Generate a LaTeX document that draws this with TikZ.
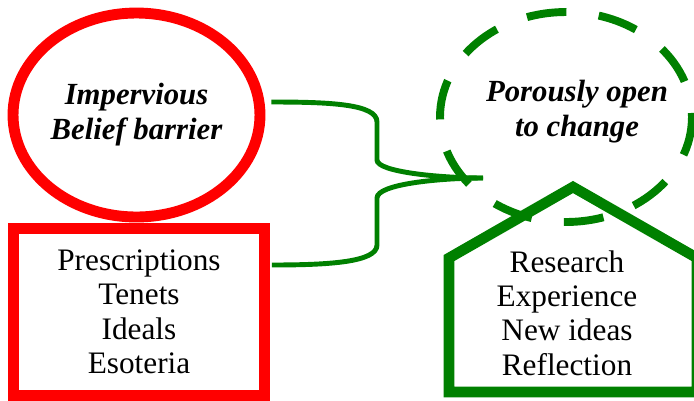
\documentclass[tikz,border=0pt]{standalone}
\usepackage{fontspec}
\setmainfont{Liberation Serif}
\usetikzlibrary{positioning,calc,shapes.geometric}

\begin{document}
\begin{tikzpicture}[
  x=0.02cm, y=-0.02cm,
  every node/.style={font=\fontsize{17.8}{19.6}\selectfont, align=center},
  head/.style={font=\fontsize{17.5}{20}\selectfont\bfseries\itshape},
  belief/.style={draw=red, ellipse, line width=6.2pt, inner sep=0pt,
                 minimum width=4.94cm, minimum height=4.08cm},
  porous/.style={draw=green!50!black, ellipse, line width=4.5pt, inner sep=0pt,
                 minimum width=5.04cm, minimum height=4.2cm,
                 dash pattern=on 22.7pt off 18.5pt, dash phase=20.4pt},
  tenetbox/.style={draw=red, rectangle, line width=6.2pt, inner sep=0pt,
                   minimum width=5.02cm, minimum height=3.33cm},
  link/.style={draw=green!50!black, line width=2.8pt},
]
\useasboundingbox (0,0) rectangle (694,400);

% house outline, right wall runs off the edge
\draw[green!50!black, line width=6pt, line join=miter]
  (449,392) -- (449,258) -- (573,187) -- (697,258) -- (697,392) -- cycle;
\node (ideas) at (567,313) {Research\\Experience\\New ideas\\Reflection};

% closed side
\node[belief, head] (belief) at (136.5,115) {Impervious\\Belief barrier};
\node[tenetbox] (tenets) at (139,312) {Prescriptions\\Tenets\\Ideals\\Esoteria};

% both sides meet here
\coordinate (merge) at (483,178);
\draw[link] ($(belief.east)+(6,-13)$)
  .. controls (330,102) and (377,104) .. (377,122) -- (377,160)
  .. controls (377,172) and (440,178) .. (merge);
\draw[link] ($(tenets.east)+(2,-47)$)
  .. controls (330,265) and (377,262) .. (377,245) -- (377,198)
  .. controls (377,184) and (440,178) .. (merge);

% open side
\node[porous] (open) at (566,117) {};
\node[head] (opentext) at (577,112) {Porously open\\to change};
\end{tikzpicture}
\end{document}
